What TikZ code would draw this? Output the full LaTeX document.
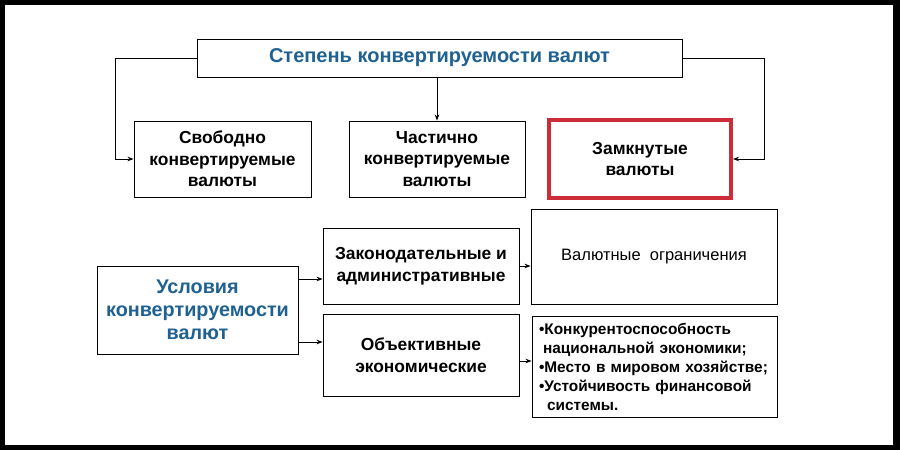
\documentclass[tikz,border=0pt]{standalone}
\usepackage{fontspec}
\setmainfont{Liberation Sans}
\usetikzlibrary{arrows.meta}
\definecolor{ttl}{RGB}{31,98,146}
\definecolor{redb}{RGB}{204,44,56}
\begin{document}
\begin{tikzpicture}[x=1pt,y=-1pt,
  box/.style={draw=black, line width=0.9pt, fill=white, inner sep=0pt, align=center},
  blk/.style={font=\bfseries\fontsize{17.4}{21.5}\selectfont},
  arr/.style={-{Stealth[length=6pt,width=4.5pt]}, line width=0.8pt}]
\useasboundingbox (0,0) rectangle (900,450);
\fill[black] (0,0) rectangle (900,450);
\fill[white] (5,5) rectangle (893,445);
% top
\node[box, minimum width=485pt, minimum height=38pt, text=ttl,
  font=\bfseries\fontsize{20}{22}\selectfont] (top) at (439.5,58) {Степень конвертируемости валют};
\node[box, blk, minimum width=177pt, minimum height=76pt] (free) at (222.5,159) {Свободно\\конвертируемые\\валюты};
\node[box, blk, minimum width=176pt, minimum height=76pt] (part) at (437,159) {Частично\\конвертируемые\\валюты};
\node[draw=redb, line width=4pt, fill=white, inner sep=0pt, align=center, blk,
  minimum width=182pt, minimum height=78pt] (closed) at (640,159) {Замкнутые\\валюты};
\coordinate (lc) at (115,58);
\coordinate (rc) at (764,58);
\draw[arr] (top.west) -- (lc) |- (free.west);
\draw[arr] (top.east) -- (rc) |- (closed.east);
\draw[arr] (part.north |- top.south) -- (part.north);
% bottom
\node[box, minimum width=201pt, minimum height=88pt, text=ttl,
  font=\bfseries\fontsize{19.8}{23}\selectfont] (cond) at (197.5,310) {Условия\\конвертируемости\\валют};
\node[box, blk, minimum width=196pt, minimum height=76pt] (zak) at (421,266) {Законодательные и\\административные};
\node[box, blk, minimum width=196pt, minimum height=82pt] (obj) at (421,355) {Объективные\\экономические};
\node[box, minimum width=246pt, minimum height=95pt, font=\fontsize{16.5}{18}\selectfont] (val) at (654,256.5) {Валютные\ \ ограничения};
\node[box, minimum height=101pt, text width=231pt, inner xsep=7pt, align=left,
  font=\bfseries\fontsize{15.4}{19}\selectfont] (bul) at (654.5,366.5)
  {•Конкурентоспособность\\
   \hspace*{4pt}национальной экономики;\\
   •Место в мировом хозяйстве;\\
   •Устойчивость финансовой\\
   \hspace*{8pt}системы.};
\draw[arr] (cond.east |- 0,279) -- (zak.west |- 0,279);
\draw[arr] (cond.east |- 0,342) -- (obj.west |- 0,342);
\draw[arr] (zak.east |- 0,266) -- (val.west |- 0,266);
\draw[arr] (obj.east |- 0,361) -- (bul.west |- 0,361);
\end{tikzpicture}
\end{document}
